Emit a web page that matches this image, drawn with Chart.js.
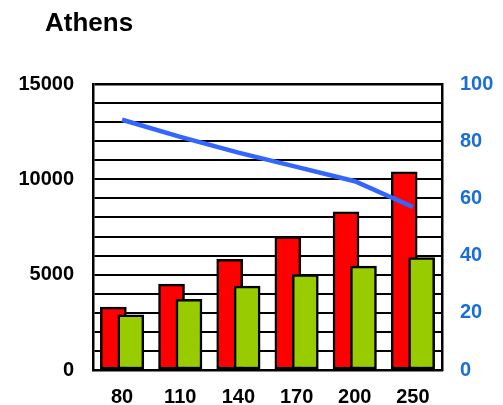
<!DOCTYPE html>
<html lang="en">
<head>
    <meta charset="UTF-8">
    <title>Athens</title>
    <script src="https://cdn.jsdelivr.net/npm/chart.js"></script>
    <style>
        body {
            margin: 0;
            background: #fff;
        }
        #chart {
            display: block;
        }
    </style>
</head>
<body>
    <canvas id="chart" width="503" height="405"></canvas>

    <script>
        // data
        const chartTitle = 'Athens';
        const categories = ['80', '110', '140', '170', '200', '250'];
        const redValues = [3300, 4500, 5800, 7000, 8300, 10400];
        const greenValues = [2900, 3700, 4400, 5000, 5450, 5900];
        const lineValues = [87.5, 81.5, 76, 71, 66, 57];
        const leftTicks = [0, 5000, 10000, 15000];
        const rightTicks = [0, 20, 40, 60, 80, 100];

        const family = "'Liberation Sans', Arial, sans-serif";
        const font = { family: family, size: 20, weight: 'bold' };

        // bars overlap, so shift them a bit either side of the category
        const shift = 0.15;
        const toPoints = (vals, dx) => vals.map((v, i) => ({ x: i + dx, y: v }));

        // title sits left of the plot, so draw it by hand
        const titlePlugin = {
            id: 'leftTitle',
            afterDraw(chart) {
                const ctx = chart.ctx;
                ctx.save();
                ctx.font = 'bold 26px ' + family;
                ctx.fillStyle = '#000';
                ctx.textAlign = 'left';
                ctx.textBaseline = 'middle';
                ctx.fillText(chartTitle, 45, 24);
                ctx.restore();
            }
        };

        new Chart(document.getElementById('chart').getContext('2d'), {
            data: {
                datasets: [
                    {
                        type: 'line',
                        data: toPoints(lineValues, 0),
                        yAxisID: 'y1',
                        borderColor: '#3366ff',
                        borderWidth: 4.5,
                        pointRadius: 0,
                        tension: 0,
                        order: 0
                    },
                    {
                        type: 'bar',
                        data: toPoints(greenValues, shift),
                        yAxisID: 'y',
                        backgroundColor: '#99cc00',
                        borderColor: '#000',
                        borderWidth: 2.5,
                        borderSkipped: false,
                        barThickness: 26,
                        grouped: false,
                        order: 1
                    },
                    {
                        type: 'bar',
                        data: toPoints(redValues, -shift),
                        yAxisID: 'y',
                        backgroundColor: '#ff0000',
                        borderColor: '#000',
                        borderWidth: 2.5,
                        borderSkipped: false,
                        barThickness: 26,
                        grouped: false,
                        order: 2
                    }
                ]
            },
            plugins: [titlePlugin],
            options: {
                responsive: false,
                animation: false,
                layout: { padding: { left: 0, right: 0, top: 84, bottom: 0 } },
                plugins: {
                    legend: { display: false },
                    tooltip: { enabled: false },
                    title: { display: false }
                },
                scales: {
                    x: {
                        type: 'linear',
                        min: -0.5,
                        max: 5.5,
                        offset: false,
                        afterBuildTicks: (scale) => {
                            scale.ticks = categories.map((_, i) => ({ value: i }));
                        },
                        afterFit: (scale) => { scale.height = 35; },
                        grid: { display: false, drawTicks: false },
                        border: { display: true, color: '#000', width: 2.5 },
                        ticks: {
                            color: '#000',
                            font: font,
                            padding: 15,
                            maxRotation: 0,
                            autoSkip: false,
                            callback: (v) => categories[v]
                        }
                    },
                    y: {
                        position: 'left',
                        min: 0,
                        max: 15000,
                        afterFit: (scale) => { scale.width = 93; },
                        grid: {
                            color: '#000',
                            lineWidth: (ctx) => ctx.tick && ctx.tick.value === 15000 ? 2.5 : 2,
                            drawTicks: false
                        },
                        border: { display: true, color: '#000', width: 2.5 },
                        ticks: {
                            stepSize: 1000,
                            autoSkip: false,
                            color: '#000',
                            font: font,
                            padding: 19,
                            callback: (v) => leftTicks.includes(v) ? v : ''
                        }
                    },
                    y1: {
                        position: 'right',
                        min: 0,
                        max: 100,
                        afterBuildTicks: (scale) => {
                            scale.ticks = rightTicks.map(v => ({ value: v }));
                        },
                        afterFit: (scale) => { scale.width = 61; },
                        grid: { display: false, drawTicks: false },
                        border: { display: true, color: '#000', width: 2.5 },
                        ticks: {
                            color: '#1a6fd6',
                            font: font,
                            padding: 18
                        }
                    }
                }
            }
        });
    </script>
</body>
</html>
